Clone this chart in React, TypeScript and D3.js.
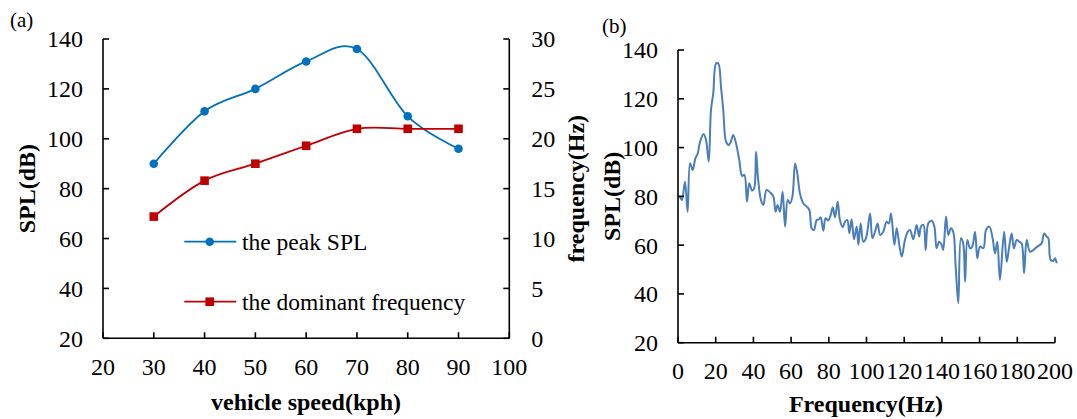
import React from "react";
import * as d3 from "d3";

// Panel (a)
const speeds = [30, 40, 50, 60, 70, 80, 90];
const peakSPL = [90, 111, 120, 131, 136, 109, 96];
const domFreq = [12.2, 15.8, 17.5, 19.3, 21.0, 21.0, 21.0];
const aXTicks = [20, 30, 40, 50, 60, 70, 80, 90, 100];
const aYTicks = [20, 40, 60, 80, 100, 120, 140];
const aY2Ticks = [0, 5, 10, 15, 20, 25, 30];

// Panel (b)
const specFreq = [
  1, 2.1, 3.7, 5.1, 6.4, 7.8, 9.2, 10.4, 11.7, 13.6, 14.9, 16.3, 17.5, 18.7, 20.2, 21.4, 22.8, 24, 25.5, 26.9,
  28, 29.3, 30.8, 32.5, 34, 35.2, 36.6, 37.8, 39.3, 40.4, 41.4, 42.4, 44, 45.3, 47, 49.3, 50.6, 51.8, 52.8, 54.1,
  55.5, 56.8, 58.2, 59.4, 60.7, 62.1, 63.3, 64.7, 66.5, 68.3, 69.7, 70.9, 72.1, 73.6, 74.8, 75.7, 77.1, 78.3, 79.7, 81,
  82.1, 83.3, 84.7, 85.9, 87.4, 88.6, 89.8, 90.9, 92.1, 93.4, 94.8, 95.7, 96.9, 98.3, 99.7, 101.9, 103.1, 104.5, 105.9, 107.2,
  108.9, 110.7, 111.9, 113, 114.8, 116, 117.4, 118.7, 120.4, 121.9, 123.1, 124.8, 126.6, 127.9, 128.9, 130.2, 131.4, 132.8, 134.6, 136,
  137.2, 138.5, 139.9, 140.7, 142.2, 143.4, 144.8, 146, 147.3, 148.7, 150.1, 151.3, 152.3, 153.5, 154.9, 156.1, 157.6, 158.8, 160.2, 162,
  163.4, 165.2, 166.9, 168.2, 169.4, 170.8, 173, 174.4, 175.7, 177, 178.2, 179.7, 181.1, 182.3, 183.6, 185, 186.7, 188.5, 190.6, 192.9,
  194.2, 195.6, 196.5, 197.7, 199.1, 200, 200.9,
];
const specSPL = [
  80, 78.5, 86, 73.7, 93.6, 90.8, 95.6, 97.4, 102.4, 105.6, 103, 94.2, 115.4, 122.2, 134.5, 134.5, 125, 115.4, 102.4, 101,
  102.4, 105.2, 101.7, 94.9, 88.4, 88.8, 77.8, 85.4, 82.4, 83.3, 98.3, 88, 78.5, 76.5, 82.6, 81.3, 79.9, 73.7, 76.5, 73.7,
  81.9, 67.6, 78.5, 77.1, 79.9, 93.5, 89.4, 81.2, 77.1, 75.8, 74.4, 66.9, 66.2, 70.3, 70.6, 71.4, 65.9, 71, 70.1, 72.4,
  75.5, 71.4, 77.8, 70.3, 67.3, 69.6, 70.3, 64.9, 70.6, 62.4, 67.6, 60.1, 68.9, 61.4, 62.8, 73, 62.8, 65.5, 68.9, 64.2,
  65.5, 69.6, 68.9, 73, 60.1, 66.9, 60.1, 55.3, 62.1, 65.5, 66.2, 62.4, 68.3, 63.5, 67.6, 68.3, 58, 69, 70, 67.6,
  58.7, 61.4, 60.1, 58, 71.7, 64.2, 66.9, 65.5, 51.2, 36.2, 62.8, 60.7, 45, 62.1, 58.7, 59.4, 65.5, 54.6, 59.4, 58.7,
  66.2, 67.6, 62.8, 56.6, 61.4, 45.7, 65.5, 53.2, 59.4, 64.8, 58.7, 62.1, 61.4, 60.7, 48.5, 62.1, 57.3, 58, 59.4, 60.7,
  64.8, 63.5, 62.8, 53.9, 53.6, 54.6, 52.6,
];
const bXTicks = [0, 20, 40, 60, 80, 100, 120, 140, 160, 180, 200];
const bYTicks = [20, 40, 60, 80, 100, 120, 140];

const FONT = "'Liberation Serif', 'Times New Roman', serif";
const TICK_FS = 24;
const LEG_FS = 23.5;
const TITLE_FS = 24;

export default function App() {
  // Panel (a) scales
  const ax = d3.scaleLinear().domain([20, 100]).range([103, 509.3]);
  const ay = d3.scaleLinear().domain([20, 140]).range([338.3, 39]);
  const ay2 = d3.scaleLinear().domain([0, 30]).range([338.3, 39]);
  const smooth = d3.curveCatmullRom.alpha(0);
  const peakLine = d3
    .line<number>()
    .x((_, i) => ax(speeds[i]))
    .y((d) => ay(d))
    .curve(smooth)(peakSPL);
  const freqLine = d3
    .line<number>()
    .x((_, i) => ax(speeds[i]))
    .y((d) => ay2(d))
    .curve(smooth)(domFreq);

  // Panel (b) scales
  const bx = d3.scaleLinear().domain([0, 200]).range([678, 1055]);
  const by = d3.scaleLinear().domain([20, 140]).range([342.7, 50]);
  const specLine = d3
    .line<number>()
    .x((_, i) => bx(specFreq[i]))
    .y((d) => by(d))
    .curve(d3.curveCatmullRom.alpha(0.5))(specSPL);

  const blue = "#0070C0";
  const red = "#C00000";
  const TL = 6;

  return (
    <svg
      width={1077}
      height={419}
      style={{ position: "absolute", left: 0, top: 0, background: "#fff" }}
      fontFamily={FONT}
    >
      <rect x={0} y={0} width={1077} height={419} fill="#fff" />
      {/* ---------- Panel (a) ---------- */}
      <text x={10} y={27} fontSize={21}>(a)</text>
      {/* axes */}
      <g stroke="#000" strokeWidth={1.6} fill="none">
        <line x1={ax(20)} x2={ax(20)} y1={ay(140)} y2={ay(20)} />
        <line x1={ax(100)} x2={ax(100)} y1={ay(140)} y2={ay(20)} />
        <line x1={ax(20)} x2={ax(100)} y1={ay(20)} y2={ay(20)} />
        {aXTicks.map((t) => (
          <line key={"axt" + t} x1={ax(t)} x2={ax(t)} y1={ay(20)} y2={ay(20) - TL} />
        ))}
        {aYTicks.map((t) => (
          <line key={"ayt" + t} x1={ax(20)} x2={ax(20) + TL} y1={ay(t)} y2={ay(t)} />
        ))}
        {aY2Ticks.map((t) => (
          <line key={"ay2t" + t} x1={ax(100)} x2={ax(100) - TL} y1={ay2(t)} y2={ay2(t)} />
        ))}
      </g>
      <g fontSize={TICK_FS} fill="#000">
        {aXTicks.map((t) => (
          <text key={"axl" + t} x={ax(t)} y={ay(20) + 37} textAnchor="middle">{t}</text>
        ))}
        {aYTicks.map((t) => (
          <text key={"ayl" + t} x={ax(20) - 20} y={ay(t)} dy="0.35em" textAnchor="end">{t}</text>
        ))}
        {aY2Ticks.map((t) => (
          <text key={"ay2l" + t} x={ax(100) + 22} y={ay2(t)} dy="0.35em" textAnchor="start">{t}</text>
        ))}
      </g>
      {/* titles */}
      <text x={306} y={410} fontSize={TITLE_FS} fontWeight="bold" textAnchor="middle">vehicle speed(kph)</text>
      <text
        transform={`translate(27,${(ay(20) + ay(140)) / 2}) rotate(-90)`}
        fontSize={TITLE_FS}
        fontWeight="bold"
        textAnchor="middle"
        dominantBaseline="central"
      >
        SPL(dB)
      </text>
      <text
        transform={`translate(576,${(ay(20) + ay(140)) / 2}) rotate(-90)`}
        fontSize={TITLE_FS}
        fontWeight="bold"
        textAnchor="middle"
        dominantBaseline="central"
      >
        frequency(Hz)
      </text>
      {/* series */}
      <path d={peakLine ?? ""} fill="none" stroke={blue} strokeWidth={1.8} />
      <path d={freqLine ?? ""} fill="none" stroke={red} strokeWidth={1.8} />
      {speeds.map((s, i) => (
        <circle key={"pc" + s} cx={ax(s)} cy={ay(peakSPL[i])} r={4.3} fill={blue} />
      ))}
      {speeds.map((s, i) => (
        <rect key={"fr" + s} x={ax(s) - 4.3} y={ay2(domFreq[i]) - 4.3} width={8.6} height={8.6} fill={red} />
      ))}
      {/* legend */}
      <line x1={184.3} x2={236.3} y1={241.7} y2={241.7} stroke={blue} strokeWidth={1.8} />
      <circle cx={209.7} cy={241.7} r={4.3} fill={blue} />
      <text x={242} y={241.7} dy="0.35em" fontSize={LEG_FS}>the peak SPL</text>
      <line x1={184.3} x2={236.3} y1={301.7} y2={301.7} stroke={red} strokeWidth={1.8} />
      <rect x={209.7 - 4.3} y={301.7 - 4.3} width={8.6} height={8.6} fill={red} />
      <text x={242} y={301.7} dy="0.35em" fontSize={LEG_FS}>the dominant frequency</text>

      {/* ---------- Panel (b) ---------- */}
      <text x={602} y={33} fontSize={21}>(b)</text>
      <path d={specLine ?? ""} fill="none" stroke="#4A7EBB" strokeWidth={2} />
      <g stroke="#000" strokeWidth={1.6} fill="none">
        <line x1={bx(0)} x2={bx(0)} y1={by(140)} y2={by(20)} />
        <line x1={bx(0)} x2={bx(200)} y1={by(20)} y2={by(20)} />
        {bXTicks.map((t) => (
          <line key={"bxt" + t} x1={bx(t)} x2={bx(t)} y1={by(20)} y2={by(20) - TL} />
        ))}
        {bYTicks.map((t) => (
          <line key={"byt" + t} x1={bx(0)} x2={bx(0) + TL} y1={by(t)} y2={by(t)} />
        ))}
      </g>
      <g fontSize={TICK_FS} fill="#000">
        {bXTicks.map((t) => (
          <text key={"bxl" + t} x={bx(t)} y={by(20) + 36} textAnchor="middle">{t}</text>
        ))}
        {bYTicks.map((t) => (
          <text key={"byl" + t} x={bx(0) - 20} y={by(t)} dy="0.35em" textAnchor="end">{t}</text>
        ))}
      </g>
      <text x={866} y={412} fontSize={TITLE_FS} fontWeight="bold" textAnchor="middle">Frequency(Hz)</text>
      <text
        transform={`translate(612,${(by(20) + by(140)) / 2}) rotate(-90)`}
        fontSize={TITLE_FS}
        fontWeight="bold"
        textAnchor="middle"
        dominantBaseline="central"
      >
        SPL(dB)
      </text>
    </svg>
  );
}
